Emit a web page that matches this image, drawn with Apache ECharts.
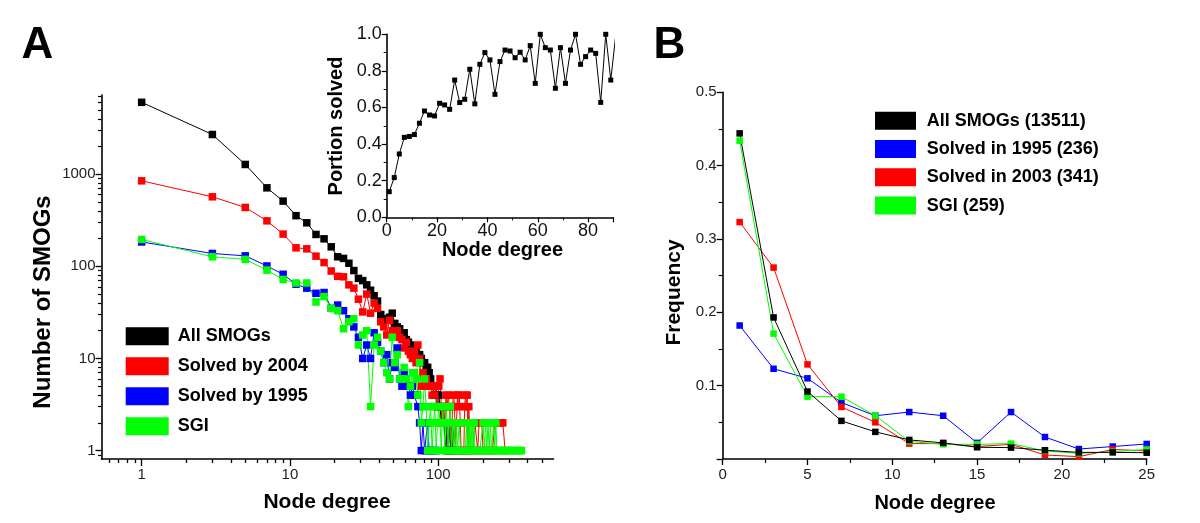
<!DOCTYPE html>
<html>
<head>
<meta charset="utf-8">
<script src="https://cdn.jsdelivr.net/npm/echarts@6/dist/echarts.min.js"></script>
<style>
html,body{margin:0;padding:0;background:#fff;}
#chart{width:1200px;height:523px;}
</style>
</head>
<body>
<div id="chart"></div>
<script>
// ---------- Panel A: degree distribution (log-log) ----------
const allSmogs = [[1,6040],[3,2700],[5,1277],[7,712],[9,511],[11,355],[13,297],[15,222],[17,199],[19,163],[21,127],[23,122],[25,108],[27,90],[29,74],[31,70],[33,63],[35,55],[37,48],[39,42],[41,30],[43,27],[45,26],[47,28],[49,31],[51,24],[53,22],[55,21],[57,18],[59,19],[61,16],[63,15],[65,14],[67,13],[69,12],[71,12],[73,11],[75,11],[77,10],[79,9],[81,9],[83,8],[85,8],[87,7],[89,6],[91,5],[93,5],[95,4],[97,4],[99,3],[101,4],[103,3],[105,2],[107,3],[109,2],[111,2],[113,1],[115,2],[117,1],[119,2],[121,1],[123,2],[125,1],[129,2],[131,1]];
const solvedBy2004 = [[1,848],[3,569],[5,436],[7,312],[9,224],[11,159],[13,155],[15,129],[17,110],[19,89],[21,78],[23,77],[25,63],[27,58],[29,44],[31,32],[33,50],[35,31],[37,40],[39,35],[41,25],[43,22],[45,18],[47,26],[49,20],[51,19],[53,20],[55,17],[57,16],[59,13],[61,15],[63,12],[65,11],[67,10],[69,12],[71,9],[73,14],[75,10],[77,5],[79,7],[81,5],[83,6],[85,5],[87,5],[89,5],[91,4],[93,5],[95,4],[97,5],[99,3],[101,5],[103,6],[105,3],[107,2],[109,3],[111,2],[113,4],[115,3],[117,4],[119,3],[121,2],[123,1],[125,3],[127,4],[129,3],[131,1],[133,2],[135,4],[137,3],[139,4],[141,2],[143,1],[145,1],[147,1],[149,1],[151,3],[153,4],[155,3],[157,4],[159,1],[161,3],[165,1],[171,1],[177,2],[181,2],[185,1],[189,2],[193,2],[197,2],[201,1],[211,1],[221,1],[233,1],[241,2],[249,2],[257,2],[265,2],[273,2],[283,1]];
const solvedBy1995 = [[1,184],[3,138],[5,130],[7,101],[9,82],[11,64],[13,58],[15,51],[17,52],[19,35],[21,38],[23,33],[25,27],[27,22],[29,17],[31,10],[33,14],[35,10],[37,19],[39,15],[41,12],[43,9],[45,11],[47,6],[49,9],[51,8],[53,13],[55,6],[57,5],[59,7],[61,6],[63,5],[65,4],[67,5],[69,4],[71,4],[73,3],[75,2],[77,1],[79,2],[81,1],[83,1],[85,2],[87,1],[89,1],[93,1],[97,1]];
const sgiA = [[1,196],[3,127],[5,119],[7,91],[9,72],[11,66],[13,66],[15,41],[17,47],[19,35],[21,33],[23,21],[25,25],[27,27],[29,14],[31,18],[33,20],[35,3],[37,14],[39,17],[41,12],[43,9],[45,7],[47,6],[49,17],[51,9],[53,11],[55,6],[57,6],[59,8],[61,6],[63,3],[65,5],[67,7],[69,7],[71,6],[73,4],[75,9],[77,2],[79,3],[81,6],[83,3],[85,1],[87,2],[89,3],[91,1],[93,2],[95,3],[97,1],[99,2],[101,3],[103,2],[105,1],[107,3],[109,2],[111,1],[113,3],[115,2],[117,1],[119,2],[121,3],[123,1],[125,2],[127,1],[129,2],[131,1],[133,2],[135,1],[137,1],[139,2],[141,1],[153,1],[155,2],[157,1],[159,2],[161,1],[163,2],[165,1],[167,2],[169,1],[171,2],[173,1],[175,2],[177,1],[181,1],[185,1],[191,1],[197,1],[201,2],[205,1],[209,2],[213,1],[217,2],[221,1],[225,2],[229,1],[233,1],[237,2],[241,1],[245,2],[249,1],[255,1],[261,1],[267,1],[273,1],[281,1],[289,1],[297,1],[305,1],[313,1],[321,1],[331,1],[341,1],[351,1],[361,1],[365,1]];
const legendA = ['All SMOGs','Solved by 2004','Solved by 1995','SGI'];
const xMajorA = [1,10,100];
const xMinorA = [0.6,0.7,0.8,0.9,2,3,4,5,6,7,8,9,20,30,40,50,60,70,80,90,200,300,400,500];
const yMajorA = [1,10,100,1000];
const yMinorA = [0.9,2,3,4,5,6,7,8,9,20,30,40,50,60,70,80,90,200,300,400,500,600,700,800,900,2000,3000,4000,5000,6000,7000];

// ---------- Inset: portion solved ----------
const portionSolved = [[1,0.14],[3,0.217],[5,0.346],[7,0.437],[9,0.442],[11,0.452],[13,0.514],[15,0.581],[17,0.559],[19,0.554],[21,0.623],[23,0.614],[25,0.59],[27,0.75],[29,0.627],[31,0.645],[33,0.809],[35,0.62],[37,0.836],[39,0.9],[41,0.86],[43,0.672],[45,0.851],[47,0.914],[49,0.909],[51,0.872],[53,0.902],[55,0.86],[57,0.938],[59,0.732],[61,1.0],[63,0.927],[65,0.914],[67,0.705],[69,0.927],[71,0.732],[73,0.914],[75,1.0],[77,0.836],[79,0.878],[81,0.914],[83,0.896],[85,0.628],[87,1.0],[89,0.75],[91,1.0]];

// ---------- Panel B: frequency ----------
const degreesB = [1,3,5,7,9,11,13,15,17,19,21,23,25];
const freqAll  = [0.444,0.193,0.092,0.052,0.037,0.026,0.022,0.016,0.0155,0.012,0.009,0.009,0.0086];
const freq1995 = [0.182,0.123,0.110,0.077,0.059,0.064,0.059,0.022,0.064,0.030,0.0136,0.017,0.0205];
const freq2003 = [0.323,0.261,0.129,0.071,0.050,0.021,0.021,0.017,0.020,0.0055,0.0032,0.013,0.011];
const freqSGI  = [0.434,0.171,0.085,0.085,0.059,0.024,0.020,0.020,0.021,0.011,0.0077,0.010,0.013];
const legendB = ['All SMOGs (13511)','Solved in 1995 (236)','Solved in 2003 (341)','SGI (259)'];

const FONT = '"Liberation Sans", Arial, Helvetica, sans-serif';
const BLACK='#000000', RED='#ff0000', BLUE='#0000ff', GREEN='#00ff00';
const zipB = ys => degreesB.map((x,i)=>[x, ys[i]]);

function lineSeries(name, data, color, xi, yi, size, extra){
  return Object.assign({
    name, type:'line', data, xAxisIndex:xi, yAxisIndex:yi,
    symbol:'rect', symbolSize:size, showSymbol:true,
    lineStyle:{color, width:1}, itemStyle:{color, borderWidth:0},
    emphasis:{disabled:true}, animation:false, z:2
  }, extra||{});
}

const axisLineStyle = {show:true, lineStyle:{color:'#000', width:1.6}};
const chart = echarts.init(document.getElementById('chart'), null, {renderer:'canvas'});
const option = {
  backgroundColor:'#ffffff',
  animation:false,
  grid:[
    {left:101.5, top:95, width:452, height:364},
    {left:386.7, top:34.3, width:226.6, height:183},
    {left:722.7, top:92.3, width:424, height:366.7}
  ],
  xAxis:[
    {gridIndex:0, type:'log', position:'bottom', min:0.536, max:600,
     axisLine:axisLineStyle, splitLine:{show:false},
     axisTick:{show:true, length:7, lineStyle:{color:'#000', width:1.3}, customValues:xMajorA},
     axisLabel:{color:'#222', fontSize:15, fontFamily:FONT, margin:8, customValues:xMajorA, formatter: v => String(v)}},
    {gridIndex:0, type:'log', position:'bottom', min:0.536, max:600,
     axisLine:{show:false}, splitLine:{show:false},
     axisTick:{show:true, length:4, lineStyle:{color:'#000', width:1.3}, customValues:xMinorA},
     axisLabel:{show:false}},
    {gridIndex:1, type:'value', min:0, max:90, interval:20,
     axisLine:axisLineStyle, splitLine:{show:false},
     axisTick:{show:true, length:5, lineStyle:{color:'#000', width:1.2}},
     minorTick:{show:true, splitNumber:2, length:3, lineStyle:{color:'#000', width:1}},
     axisLabel:{color:'#111', fontSize:18, fontFamily:FONT, margin:5, showMaxLabel:false}},
    {gridIndex:2, type:'value', min:0, max:25, interval:5,
     axisLine:axisLineStyle, splitLine:{show:false},
     axisTick:{show:true, length:6, lineStyle:{color:'#000', width:1.3}},
     minorTick:{show:true, splitNumber:2, length:4, lineStyle:{color:'#000', width:1.2}},
     axisLabel:{color:'#222', fontSize:15, fontFamily:FONT, margin:8}}
  ],
  yAxis:[
    {gridIndex:0, type:'log', position:'left', min:0.81, max:7250,
     axisLine:axisLineStyle, splitLine:{show:false},
     axisTick:{show:true, length:6, lineStyle:{color:'#000', width:1.3}, customValues:yMajorA},
     axisLabel:{color:'#222', fontSize:15, fontFamily:FONT, margin:6, customValues:yMajorA, formatter: v => String(v)}},
    {gridIndex:0, type:'log', position:'left', min:0.81, max:7250,
     axisLine:{show:false}, splitLine:{show:false},
     axisTick:{show:true, length:3.5, lineStyle:{color:'#000', width:1.2}, customValues:yMinorA},
     axisLabel:{show:false}},
    {gridIndex:1, type:'value', min:0, max:1, interval:0.2,
     axisLine:axisLineStyle, splitLine:{show:false},
     axisTick:{show:true, length:5, lineStyle:{color:'#000', width:1.2}},
     minorTick:{show:true, splitNumber:2, length:3, lineStyle:{color:'#000', width:1}},
     axisLabel:{color:'#111', fontSize:18, fontFamily:FONT, margin:5,
       formatter: v => v.toFixed(1)}},
    {gridIndex:2, type:'value', min:0, max:0.5, interval:0.1,
     axisLine:axisLineStyle, splitLine:{show:false},
     axisTick:{show:true, length:6, lineStyle:{color:'#000', width:1.3}},
     minorTick:{show:true, splitNumber:2, length:4, lineStyle:{color:'#000', width:1.2}},
     axisLabel:{color:'#222', fontSize:15, fontFamily:FONT, margin:6, showMinLabel:false,
       formatter: v => v.toFixed(1)}}
  ],
  legend:[
    {data:legendA, orient:'vertical', left:125.7, top:327.3, padding:0,
     icon:'rect', itemWidth:43, itemHeight:18, itemGap:12, selectedMode:false,
     itemStyle:{borderWidth:0},
     textStyle:{fontFamily:FONT, fontSize:18, fontWeight:'bold', color:'#000', lineHeight:18, padding:[0,0,0,4]}},
    {data:legendB, orient:'vertical', left:875, top:111.7, padding:0,
     icon:'rect', itemWidth:41, itemHeight:18, itemGap:10.3, selectedMode:false,
     itemStyle:{borderWidth:0},
     textStyle:{fontFamily:FONT, fontSize:18, fontWeight:'bold', color:'#000', lineHeight:18, padding:[0,0,0,5.7]}}
  ],
  series:[
    lineSeries('All SMOGs', allSmogs, BLACK, 0, 0, 7.5),
    lineSeries('Solved by 2004', solvedBy2004, RED, 0, 0, 7.5),
    lineSeries('Solved by 1995', solvedBy1995, BLUE, 0, 0, 7.5),
    lineSeries('SGI', sgiA, GREEN, 0, 0, 7.5),
    lineSeries('Portion solved', portionSolved, BLACK, 2, 2, 5, {clip:true}),
    lineSeries('Solved in 1995 (236)', zipB(freq1995), BLUE, 3, 3, 6.5, {clip:false}),
    lineSeries('Solved in 2003 (341)', zipB(freq2003), RED, 3, 3, 6.5, {clip:false}),
    lineSeries('SGI (259)', zipB(freqSGI), GREEN, 3, 3, 6.5, {clip:false}),
    lineSeries('All SMOGs (13511)', zipB(freqAll), BLACK, 3, 3, 6.5, {clip:false})
  ],
  graphic:[
    {type:'text', x:37.5, y:46, style:{text:'A', font:'bold 44px '+FONT, fill:'#000', textAlign:'center', textVerticalAlign:'middle'}},
    {type:'text', x:669.5, y:46, style:{text:'B', font:'bold 44px '+FONT, fill:'#000', textAlign:'center', textVerticalAlign:'middle'}},
    {type:'text', x:43, y:302, rotation:Math.PI/2, style:{text:'Number of SMOGs', font:'bold 24px '+FONT, fill:'#000', textAlign:'center', textVerticalAlign:'middle'}},
    {type:'text', x:327, y:502, style:{text:'Node degree', font:'bold 21px '+FONT, fill:'#000', textAlign:'center', textVerticalAlign:'middle'}},
    {type:'text', x:336.5, y:126, rotation:Math.PI/2, style:{text:'Portion solved', font:'bold 20px '+FONT, fill:'#000', textAlign:'center', textVerticalAlign:'middle'}},
    {type:'text', x:502.5, y:250, style:{text:'Node degree', font:'bold 20px '+FONT, fill:'#000', textAlign:'center', textVerticalAlign:'middle'}},
    {type:'text', x:674, y:292.5, rotation:Math.PI/2, style:{text:'Frequency', font:'bold 21px '+FONT, fill:'#000', textAlign:'center', textVerticalAlign:'middle'}},
    {type:'text', x:935, y:503, style:{text:'Node degree', font:'bold 20px '+FONT, fill:'#000', textAlign:'center', textVerticalAlign:'middle'}}
  ]
};
chart.setOption(option);
</script>
</body>
</html>
